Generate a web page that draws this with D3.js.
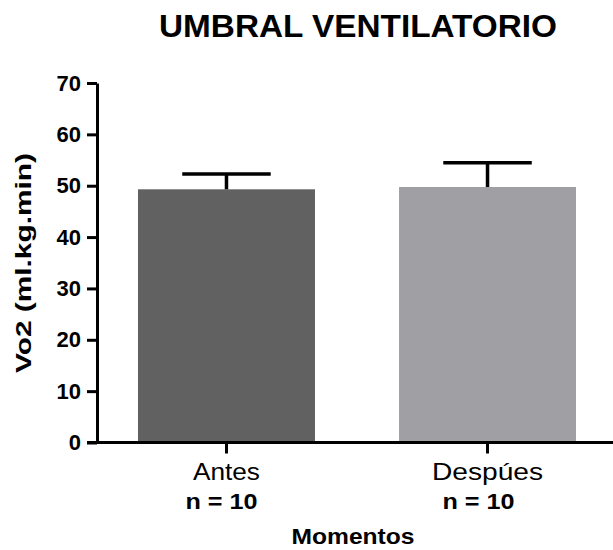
<!DOCTYPE html>
<html>
<head>
<meta charset="utf-8">
<script src="https://cdn.jsdelivr.net/npm/d3@7/dist/d3.min.js"></script>
<style>
  html, body { margin: 0; padding: 0; background: #fff; }
  text { font-family: "Liberation Sans", Arial, sans-serif; fill: #000; }
</style>
</head>
<body>
<svg id="chart" width="613" height="550"></svg>
<script>
// Measurement moments and group sizes
const momentos = ["Antes", "Despúes"];
const muestras = ["n = 10", "n = 10"];
// Mean VO2 at the ventilatory threshold and its error (upper bar)
const medias = [49.3, 49.75];
const errores = [3.0, 4.7];
const colores = ["#616161", "#a09fa4"];
const yTicks = [0, 10, 20, 30, 40, 50, 60, 70];

const svg = d3.select("#chart");

const x = d3.scaleBand()
  .domain(momentos)
  .range([97, 617])
  .paddingInner(0.322)
  .paddingOuter(0.157);

const y = d3.scaleLinear()
  .domain([0, 70])
  .range([442.5, 83]);

// Title
svg.append("text")
  .attr("x", 358).attr("y", 37)
  .attr("text-anchor", "middle")
  .attr("font-size", 31).attr("font-weight", "bold")
  .attr("textLength", 398).attr("lengthAdjust", "spacingAndGlyphs")
  .text("UMBRAL VENTILATORIO");

// Bars
svg.append("g").selectAll("rect")
  .data(momentos)
  .join("rect")
  .attr("x", d => x(d))
  .attr("width", x.bandwidth())
  .attr("y", (d, i) => y(medias[i]))
  .attr("height", (d, i) => y(0) - y(medias[i]))
  .attr("fill", (d, i) => colores[i]);

// Error bars (upper side only)
const eb = svg.append("g").attr("stroke", "#000").attr("stroke-width", 3.5);
momentos.forEach((d, i) => {
  const cx = x(d) + x.bandwidth() / 2;
  const half = x.bandwidth() / 4;
  eb.append("line")
    .attr("x1", cx).attr("x2", cx)
    .attr("y1", y(medias[i])).attr("y2", y(medias[i] + errores[i]));
  eb.append("line")
    .attr("x1", cx - half).attr("x2", cx + half)
    .attr("y1", y(medias[i] + errores[i])).attr("y2", y(medias[i] + errores[i]));
});

// Y axis
const yAxis = svg.append("g")
  .attr("transform", "translate(97,0)")
  .call(d3.axisLeft(y).tickValues(yTicks).tickSize(10).tickSizeOuter(0).tickPadding(6));
yAxis.select(".domain").attr("stroke-width", 3);
yAxis.selectAll(".tick line").attr("stroke-width", 3);
yAxis.selectAll(".tick text")
  .attr("font-size", 22).attr("font-weight", "bold")
  .attr("font-family", "'Liberation Sans', Arial, sans-serif")
  .attr("fill", "#000");

// X axis
const xAxis = svg.append("g")
  .attr("transform", `translate(0,${y(0)})`)
  .call(d3.axisBottom(x).tickSize(11).tickSizeOuter(0).tickFormat(""));
xAxis.select(".domain").attr("d", `M87,0H613`).attr("stroke-width", 3);
xAxis.selectAll(".tick line").attr("stroke-width", 3);

// Category labels and group sizes
const catWidths = [67, 111];
const nOffsets = [-5, -9];
momentos.forEach((d, i) => {
  const cx = x(d) + x.bandwidth() / 2;
  svg.append("text")
    .attr("x", cx).attr("y", 480)
    .attr("text-anchor", "middle")
    .attr("font-size", 24)
    .attr("textLength", catWidths[i]).attr("lengthAdjust", "spacingAndGlyphs")
    .text(d);
  svg.append("text")
    .attr("x", cx + nOffsets[i]).attr("y", 509)
    .attr("text-anchor", "middle")
    .attr("font-size", 22).attr("font-weight", "bold")
    .attr("textLength", 72).attr("lengthAdjust", "spacingAndGlyphs")
    .text(muestras[i]);
});

// Axis titles
svg.append("text")
  .attr("x", 353).attr("y", 544)
  .attr("text-anchor", "middle")
  .attr("font-size", 22).attr("font-weight", "bold")
  .attr("textLength", 123).attr("lengthAdjust", "spacingAndGlyphs")
  .text("Momentos");

svg.append("text")
  .attr("transform", "translate(31,263) rotate(-90)")
  .attr("text-anchor", "middle")
  .attr("font-size", 22).attr("font-weight", "bold")
  .attr("textLength", 220).attr("lengthAdjust", "spacingAndGlyphs")
  .text("Vo2 (ml.kg.min)");
</script>
</body>
</html>
